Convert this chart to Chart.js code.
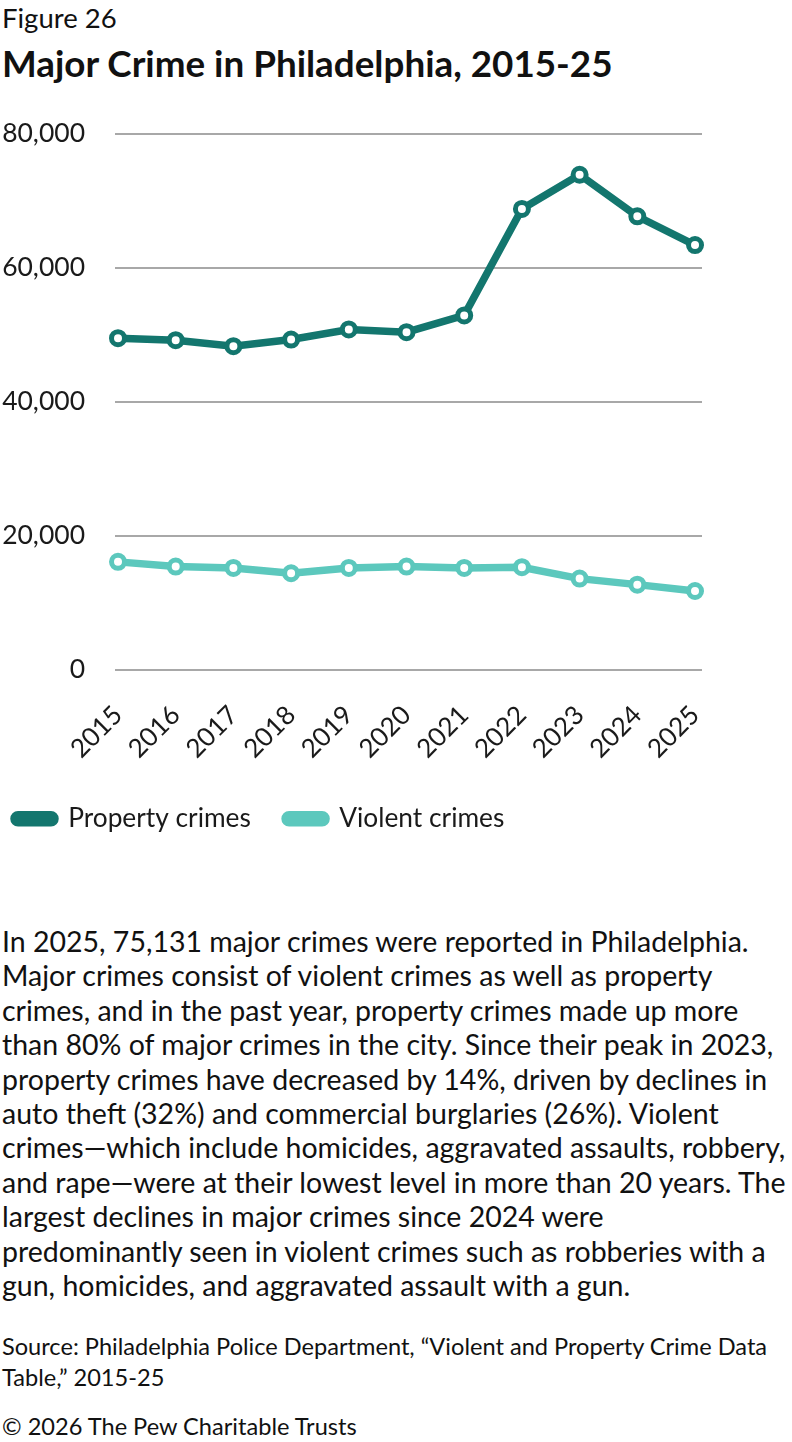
<!DOCTYPE html>
<html>
<head>
<meta charset="utf-8">
<script src="https://cdn.jsdelivr.net/npm/chart.js@4.4.1/dist/chart.umd.min.js"></script>
<style>
  html, body { margin: 0; padding: 0; background: #ffffff; }
  body { width: 792px; height: 1442px; position: relative; overflow: hidden; font-family: Lato, "Open Sans", sans-serif; color: #111; }
  .abs { position: absolute; left: 2px; white-space: nowrap; }
  #fig { top: 3px; font-size: 27.5px; line-height: 30px; }
  #title { top: 43px; font-size: 36.8px; line-height: 40px; font-weight: 700; }
  #chartWrap { position: absolute; left: 0; top: 88px; width: 792px; height: 754px; }
  #body { top: 924px; font-size: 28.5px; line-height: 34.4px; }
  #source { top: 1331px; font-size: 23.6px; line-height: 31px; }
  #copy { top: 1412px; font-size: 23.6px; line-height: 28px; }
</style>
</head>
<body>
<div id="fig" class="abs">Figure 26</div>
<div id="title" class="abs">Major Crime in Philadelphia, 2015-25</div>
<div id="chartWrap"><canvas id="c" width="792" height="754"></canvas></div>
<div id="body" class="abs">In 2025, 75,131 major crimes were reported in Philadelphia.<br>Major crimes consist of violent crimes as well as property<br>crimes, and in the past year, property crimes made up more<br>than 80% of major crimes in the city. Since their peak in 2023,<br>property crimes have decreased by 14%, driven by declines in<br>auto theft (32%) and commercial burglaries (26%). Violent<br>crimes—which include homicides, aggravated assaults, robbery,<br>and rape—were at their lowest level in more than 20 years. The<br>largest declines in major crimes since 2024 were<br>predominantly seen in violent crimes such as robberies with a<br>gun, homicides, and aggravated assault with a gun.</div>
<div id="source" class="abs">Source: Philadelphia Police Department, “Violent and Property Crime Data<br>Table,” 2015-25</div>
<div id="copy" class="abs">© 2026 The Pew Charitable Trusts</div>
<script>
const years = [2015, 2016, 2017, 2018, 2019, 2020, 2021, 2022, 2023, 2024, 2025];
const propertyCrimes = [49500, 49200, 48300, 49300, 50800, 50400, 52900, 68800, 73900, 67700, 63400];
const violentCrimes = [16100, 15400, 15200, 14400, 15200, 15400, 15200, 15300, 13600, 12700, 11750];
const yTicks = [0, 20000, 40000, 60000, 80000];
const seriesNames = ["Property crimes", "Violent crimes"];
const seriesColors = ["#13766e", "#5cc8bd"];

const ds = (label, values, color) => ({
  label,
  data: years.map((yr, i) => ({ x: yr, y: values[i] })),
  borderColor: color, backgroundColor: color,
  borderWidth: 7.5,
  pointRadius: 6.5, pointHoverRadius: 6.5,
  pointBorderWidth: 5, pointBackgroundColor: "#ffffff", pointBorderColor: color,
  tension: 0, clip: false
});

new Chart(document.getElementById("c"), {
  type: "line",
  data: {
    datasets: [
      ds(seriesNames[0], propertyCrimes, seriesColors[0]),
      ds(seriesNames[1], violentCrimes, seriesColors[1])
    ]
  },
  options: {
    responsive: false,
    animation: false,
    devicePixelRatio: 1,
    layout: { padding: { top: 29, right: 90, left: 0, bottom: 0 } },
    scales: {
      y: {
        min: yTicks[0], max: yTicks[yTicks.length - 1],
        afterBuildTicks: s => { s.ticks = yTicks.map(v => ({ value: v })); },
        afterFit: s => { s.width = 115; },
        ticks: {
          padding: 30,
          color: "#1a1a1a",
          font: { family: "Lato", size: 26.5 },
          callback: v => v.toLocaleString("en-US")
        },
        grid: { color: "#a8a8a8", lineWidth: 2, drawTicks: false },
        border: { display: false }
      },
      x: {
        type: "linear",
        min: years[0] - 0.052, max: years[years.length - 1] + 0.121,
        afterBuildTicks: s => { s.ticks = years.map(v => ({ value: v })); },
        afterFit: s => { s.height = 122; },
        ticks: {
          minRotation: 45, maxRotation: 45, autoSkip: false,
          padding: 30,
          color: "#1a1a1a",
          font: { family: "Lato", size: 26 },
          callback: v => String(v)
        },
        grid: { display: false, drawTicks: false },
        border: { display: false }
      }
    },
    plugins: {
      tooltip: { enabled: false },
      legend: {
        position: "bottom",
        align: "start",
        labels: {
          boxWidth: 41, boxHeight: 8,
          useBorderRadius: true, borderRadius: 4,
          padding: 14,
          color: "#1a1a1a",
          font: { family: "Lato", size: 26.3 },
          generateLabels: chart => {
            const items = Chart.defaults.plugins.legend.labels.generateLabels(chart);
            items.forEach((it, i) => { if (i < items.length - 1) it.text = it.text + "\u00a0\u00a0\u00a0"; });
            return items;
          }
        }
      }
    }
  }
});
</script>
</body>
</html>
